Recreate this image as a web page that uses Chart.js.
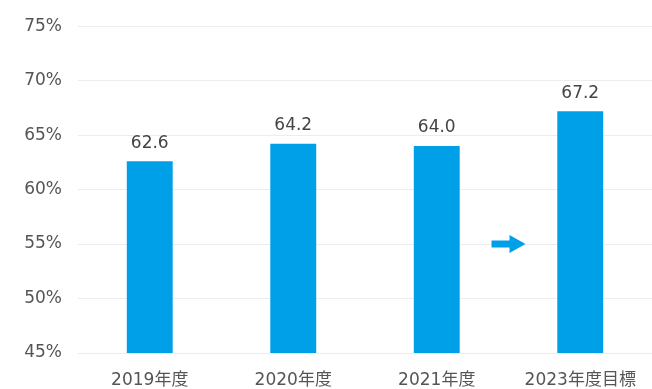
<!DOCTYPE html>
<html>
<head>
<meta charset="utf-8">
<script src="https://cdn.jsdelivr.net/npm/chart.js@4"></script>
<style>
  html, body { margin: 0; padding: 0; background: #fff; }
  #wrap { width: 652px; height: 389px; }
</style>
</head>
<body>
<div id="wrap"><canvas id="grafico" width="652" height="389"></canvas></div>
<script>
// dados
const categorias = ['2019年度', '2020年度', '2021年度', '2023年度目標'];
const valores = [62.6, 64.2, 64.0, 67.2];
const ticksY = [45, 50, 55, 60, 65, 70, 75];

const FONTE = '"DejaVu Sans", "Noto Sans CJK JP", sans-serif';
const AZUL = '#00a0e9';

// rótulos em cima das barras + seta entre 2021 e 2023
const pluginExtras = {
  id: 'extras',
  afterDatasetsDraw(chart) {
    const ctx = chart.ctx;
    const meta = chart.getDatasetMeta(0);
    ctx.save();
    ctx.fillStyle = '#444';
    ctx.font = '17px ' + FONTE;
    ctx.textAlign = 'center';
    ctx.textBaseline = 'middle';
    meta.data.forEach((bar, i) => {
      ctx.fillText(valores[i].toFixed(1), bar.x, bar.y - 18);
    });

    // seta
    const x = (chart.scales.x.getPixelForValue(2) + chart.scales.x.getPixelForValue(3)) / 2;
    const y = chart.scales.y.getPixelForValue(55);
    ctx.fillStyle = AZUL;
    ctx.beginPath();
    ctx.moveTo(x - 17, y - 3.5);
    ctx.lineTo(x + 1, y - 3.5);
    ctx.lineTo(x + 1, y - 9);
    ctx.lineTo(x + 17, y);
    ctx.lineTo(x + 1, y + 9);
    ctx.lineTo(x + 1, y + 3.5);
    ctx.lineTo(x - 17, y + 3.5);
    ctx.closePath();
    ctx.fill();
    ctx.restore();
  }
};

const grafico = new Chart(document.getElementById('grafico'), {
  type: 'bar',
  data: {
    labels: categorias,
    datasets: [{
      data: valores,
      backgroundColor: AZUL,
      borderWidth: 0,
      barPercentage: 0.32,
      categoryPercentage: 1.0
    }]
  },
  options: {
    responsive: false,
    animation: false,
    layout: { padding: { top: 22, right: 0, left: 0, bottom: 0 } },
    plugins: {
      legend: { display: false },
      tooltip: { enabled: false }
    },
    scales: {
      x: {
        grid: { display: false },
        border: { display: false },
        ticks: {
          color: '#555',
          font: { family: FONTE, size: 17 },
          padding: 9,
          maxRotation: 0
        },
        afterFit(scale) { scale.height = 36; }
      },
      y: {
        min: 45,
        max: 75,
        afterBuildTicks(scale) { scale.ticks = ticksY.map(v => ({ value: v })); },
        grid: { color: '#ececec', drawTicks: false },
        border: { display: false },
        ticks: {
          color: '#555',
          font: { family: FONTE, size: 17 },
          padding: 16,
          callback: v => v + '%'
        },
        afterFit(scale) { scale.width = 78; }
      }
    }
  },
  plugins: [pluginExtras]
});
</script>
</body>
</html>
